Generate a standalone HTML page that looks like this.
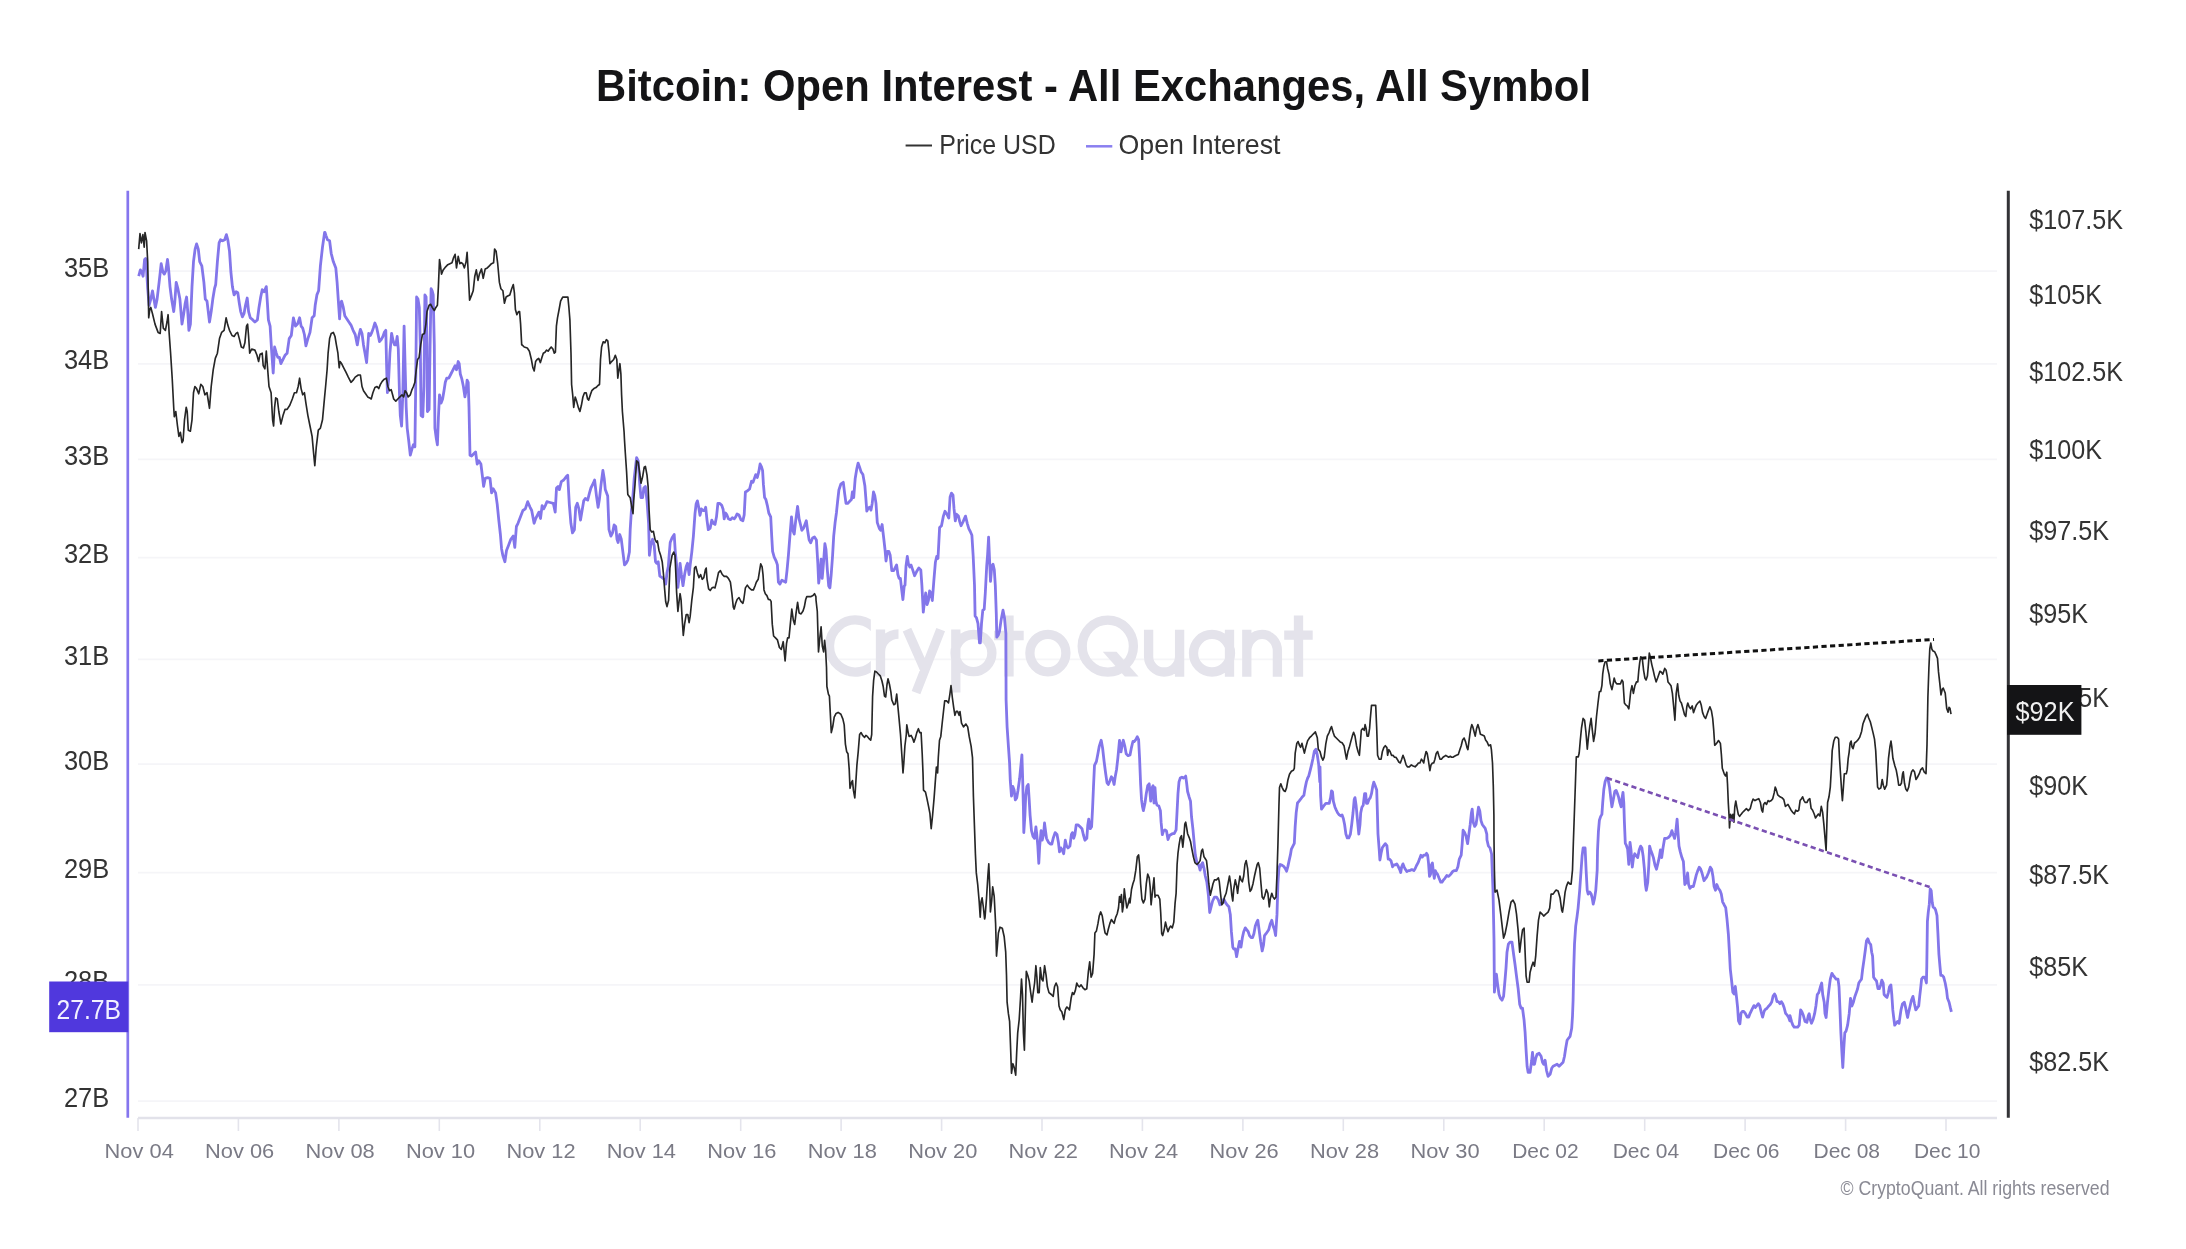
<!DOCTYPE html>
<html><head><meta charset="utf-8"><style>
html,body{margin:0;padding:0;background:#fff;width:2186px;height:1249px;overflow:hidden}
svg{display:block;filter:blur(0.5px)}
text{font-family:"Liberation Sans",sans-serif}
.ax{font-size:27.5px;fill:#333}
.xl{font-size:21px;fill:#7a7a85}
</style></head><body>
<svg width="2186" height="1249" viewBox="0 0 2186 1249">
<rect width="2186" height="1249" fill="#fff"/>
<text x="596" y="100.6" font-size="44.5" font-weight="bold" fill="#141416" textLength="995" lengthAdjust="spacingAndGlyphs">Bitcoin: Open Interest - All Exchanges, All Symbol</text>
<line x1="905.6" y1="145.5" x2="932" y2="145.5" stroke="#333" stroke-width="2"/>
<text x="939.3" y="153.8" font-size="28" fill="#333" textLength="116.5" lengthAdjust="spacingAndGlyphs">Price USD</text>
<line x1="1086" y1="146.3" x2="1112.3" y2="146.3" stroke="#8a7ff0" stroke-width="2.5"/>
<text x="1118.5" y="153.8" font-size="28" fill="#333" textLength="162" lengthAdjust="spacingAndGlyphs">Open Interest</text>
<line x1="138" y1="1101.1" x2="1997" y2="1101.1" stroke="#f5f5f8" stroke-width="1.8"/>
<line x1="138" y1="984.8" x2="1997" y2="984.8" stroke="#f5f5f8" stroke-width="1.8"/>
<line x1="138" y1="872.6" x2="1997" y2="872.6" stroke="#f5f5f8" stroke-width="1.8"/>
<line x1="138" y1="764.2" x2="1997" y2="764.2" stroke="#f5f5f8" stroke-width="1.8"/>
<line x1="138" y1="659.3" x2="1997" y2="659.3" stroke="#f5f5f8" stroke-width="1.8"/>
<line x1="138" y1="557.7" x2="1997" y2="557.7" stroke="#f5f5f8" stroke-width="1.8"/>
<line x1="138" y1="459.3" x2="1997" y2="459.3" stroke="#f5f5f8" stroke-width="1.8"/>
<line x1="138" y1="363.8" x2="1997" y2="363.8" stroke="#f5f5f8" stroke-width="1.8"/>
<line x1="138" y1="271.1" x2="1997" y2="271.1" stroke="#f5f5f8" stroke-width="1.8"/>
<text x="109.2" y="1106.7" text-anchor="end" class="ax" textLength="45.3" lengthAdjust="spacingAndGlyphs">27B</text>
<text x="109.2" y="990.4" text-anchor="end" class="ax" textLength="45.3" lengthAdjust="spacingAndGlyphs">28B</text>
<text x="109.2" y="878.2" text-anchor="end" class="ax" textLength="45.3" lengthAdjust="spacingAndGlyphs">29B</text>
<text x="109.2" y="769.8" text-anchor="end" class="ax" textLength="45.3" lengthAdjust="spacingAndGlyphs">30B</text>
<text x="109.2" y="664.9" text-anchor="end" class="ax" textLength="45.3" lengthAdjust="spacingAndGlyphs">31B</text>
<text x="109.2" y="563.3" text-anchor="end" class="ax" textLength="45.3" lengthAdjust="spacingAndGlyphs">32B</text>
<text x="109.2" y="464.9" text-anchor="end" class="ax" textLength="45.3" lengthAdjust="spacingAndGlyphs">33B</text>
<text x="109.2" y="369.4" text-anchor="end" class="ax" textLength="45.3" lengthAdjust="spacingAndGlyphs">34B</text>
<text x="109.2" y="276.7" text-anchor="end" class="ax" textLength="45.3" lengthAdjust="spacingAndGlyphs">35B</text>
<text x="2029.3" y="229.3" class="ax" textLength="93.7" lengthAdjust="spacingAndGlyphs">$107.5K</text>
<text x="2029.3" y="304.1" class="ax" textLength="72.8" lengthAdjust="spacingAndGlyphs">$105K</text>
<text x="2029.3" y="380.8" class="ax" textLength="93.7" lengthAdjust="spacingAndGlyphs">$102.5K</text>
<text x="2029.3" y="459.4" class="ax" textLength="72.8" lengthAdjust="spacingAndGlyphs">$100K</text>
<text x="2029.3" y="539.9" class="ax" textLength="79.8" lengthAdjust="spacingAndGlyphs">$97.5K</text>
<text x="2029.3" y="622.5" class="ax" textLength="58.8" lengthAdjust="spacingAndGlyphs">$95K</text>
<text x="2029.3" y="707.4" class="ax" textLength="79.8" lengthAdjust="spacingAndGlyphs">$92.5K</text>
<text x="2029.3" y="794.6" class="ax" textLength="58.8" lengthAdjust="spacingAndGlyphs">$90K</text>
<text x="2029.3" y="884.2" class="ax" textLength="79.8" lengthAdjust="spacingAndGlyphs">$87.5K</text>
<text x="2029.3" y="976.4" class="ax" textLength="58.8" lengthAdjust="spacingAndGlyphs">$85K</text>
<text x="2029.3" y="1071.4" class="ax" textLength="79.8" lengthAdjust="spacingAndGlyphs">$82.5K</text>
<line x1="138.0" y1="1118" x2="138.0" y2="1131" stroke="#e4e4ec" stroke-width="1.6"/>
<text x="139.2" y="1158" text-anchor="middle" class="xl" textLength="69.2" lengthAdjust="spacingAndGlyphs">Nov 04</text>
<line x1="238.4" y1="1118" x2="238.4" y2="1131" stroke="#e4e4ec" stroke-width="1.6"/>
<text x="239.6" y="1158" text-anchor="middle" class="xl" textLength="69.2" lengthAdjust="spacingAndGlyphs">Nov 06</text>
<line x1="338.9" y1="1118" x2="338.9" y2="1131" stroke="#e4e4ec" stroke-width="1.6"/>
<text x="340.1" y="1158" text-anchor="middle" class="xl" textLength="69.2" lengthAdjust="spacingAndGlyphs">Nov 08</text>
<line x1="439.3" y1="1118" x2="439.3" y2="1131" stroke="#e4e4ec" stroke-width="1.6"/>
<text x="440.5" y="1158" text-anchor="middle" class="xl" textLength="69.2" lengthAdjust="spacingAndGlyphs">Nov 10</text>
<line x1="539.8" y1="1118" x2="539.8" y2="1131" stroke="#e4e4ec" stroke-width="1.6"/>
<text x="541.0" y="1158" text-anchor="middle" class="xl" textLength="69.2" lengthAdjust="spacingAndGlyphs">Nov 12</text>
<line x1="640.2" y1="1118" x2="640.2" y2="1131" stroke="#e4e4ec" stroke-width="1.6"/>
<text x="641.4" y="1158" text-anchor="middle" class="xl" textLength="69.2" lengthAdjust="spacingAndGlyphs">Nov 14</text>
<line x1="740.7" y1="1118" x2="740.7" y2="1131" stroke="#e4e4ec" stroke-width="1.6"/>
<text x="741.9" y="1158" text-anchor="middle" class="xl" textLength="69.2" lengthAdjust="spacingAndGlyphs">Nov 16</text>
<line x1="841.1" y1="1118" x2="841.1" y2="1131" stroke="#e4e4ec" stroke-width="1.6"/>
<text x="842.3" y="1158" text-anchor="middle" class="xl" textLength="69.2" lengthAdjust="spacingAndGlyphs">Nov 18</text>
<line x1="941.6" y1="1118" x2="941.6" y2="1131" stroke="#e4e4ec" stroke-width="1.6"/>
<text x="942.8" y="1158" text-anchor="middle" class="xl" textLength="69.2" lengthAdjust="spacingAndGlyphs">Nov 20</text>
<line x1="1042.0" y1="1118" x2="1042.0" y2="1131" stroke="#e4e4ec" stroke-width="1.6"/>
<text x="1043.2" y="1158" text-anchor="middle" class="xl" textLength="69.2" lengthAdjust="spacingAndGlyphs">Nov 22</text>
<line x1="1142.4" y1="1118" x2="1142.4" y2="1131" stroke="#e4e4ec" stroke-width="1.6"/>
<text x="1143.6" y="1158" text-anchor="middle" class="xl" textLength="69.2" lengthAdjust="spacingAndGlyphs">Nov 24</text>
<line x1="1242.9" y1="1118" x2="1242.9" y2="1131" stroke="#e4e4ec" stroke-width="1.6"/>
<text x="1244.1" y="1158" text-anchor="middle" class="xl" textLength="69.2" lengthAdjust="spacingAndGlyphs">Nov 26</text>
<line x1="1343.3" y1="1118" x2="1343.3" y2="1131" stroke="#e4e4ec" stroke-width="1.6"/>
<text x="1344.5" y="1158" text-anchor="middle" class="xl" textLength="69.2" lengthAdjust="spacingAndGlyphs">Nov 28</text>
<line x1="1443.8" y1="1118" x2="1443.8" y2="1131" stroke="#e4e4ec" stroke-width="1.6"/>
<text x="1445.0" y="1158" text-anchor="middle" class="xl" textLength="69.2" lengthAdjust="spacingAndGlyphs">Nov 30</text>
<line x1="1544.2" y1="1118" x2="1544.2" y2="1131" stroke="#e4e4ec" stroke-width="1.6"/>
<text x="1545.4" y="1158" text-anchor="middle" class="xl" textLength="66.5" lengthAdjust="spacingAndGlyphs">Dec 02</text>
<line x1="1644.7" y1="1118" x2="1644.7" y2="1131" stroke="#e4e4ec" stroke-width="1.6"/>
<text x="1645.9" y="1158" text-anchor="middle" class="xl" textLength="66.5" lengthAdjust="spacingAndGlyphs">Dec 04</text>
<line x1="1745.1" y1="1118" x2="1745.1" y2="1131" stroke="#e4e4ec" stroke-width="1.6"/>
<text x="1746.3" y="1158" text-anchor="middle" class="xl" textLength="66.5" lengthAdjust="spacingAndGlyphs">Dec 06</text>
<line x1="1845.6" y1="1118" x2="1845.6" y2="1131" stroke="#e4e4ec" stroke-width="1.6"/>
<text x="1846.8" y="1158" text-anchor="middle" class="xl" textLength="66.5" lengthAdjust="spacingAndGlyphs">Dec 08</text>
<line x1="1946.0" y1="1118" x2="1946.0" y2="1131" stroke="#e4e4ec" stroke-width="1.6"/>
<text x="1947.2" y="1158" text-anchor="middle" class="xl" textLength="66.5" lengthAdjust="spacingAndGlyphs">Dec 10</text>
<defs><clipPath id="cclip"><rect x="800" y="600" width="70.8" height="100"/></clipPath></defs><path d="M878.0,633.0 A26.0,26.0 0 1 0 878.0,659.0" fill="none" stroke="#e4e3eb" stroke-width="9.3" clip-path="url(#cclip)"/><g fill="none" stroke="#e4e3eb" stroke-width="9.3"><path d="M880.5,676.6 V629.6 M880.5,652 A18,18 0 0 1 898.5,634 M907,629.6 L924.9,670 M940.7,629.6 L916,692.6 M955.8,629.6 V692.6 M973.5,653.1 m-18.4,0 a18.4,18.6 0 1 0 36.8,0 a18.4,18.6 0 1 0 -36.8,0 M1009,615.4 V676.6 M994.1,635.5 H1023.7 M1047.9,653.1 m-18,0 a18,18.8 0 1 0 36,0 a18,18.8 0 1 0 -36,0 M1107.8,646.1 m-25.6,0 a25.6,26 0 1 0 51.2,0 a25.6,26 0 1 0 -51.2,0 M1148.6,629.7 V656.5 A15.5,15.5 0 0 0 1179.6,656.5 M1179.6,629.7 V676.7 M1212,653.2 m-18.5,0 a18.5,18.8 0 1 0 37,0 a18.5,18.8 0 1 0 -37,0 M1229.5,629.7 V676.7 M1246.8,629.7 V676.7 M1246.8,651 A15.3,16.6 0 0 1 1277.4,651 V676.7 M1298.5,615.5 V676.7 M1284.2,635.1 H1312.7"/></g><polygon points="1102.8,651.7 1116.5,651.7 1138.5,676.4 1124.8,676.4" fill="#e4e3eb"/>
<line x1="138" y1="1118" x2="1997" y2="1118" stroke="#e2e2ea" stroke-width="2.5"/>
<line x1="127.8" y1="190.8" x2="127.8" y2="1117.8" stroke="#8576ee" stroke-width="2.7"/>
<line x1="2008.3" y1="190.7" x2="2008.3" y2="1117.7" stroke="#333336" stroke-width="3"/>
<polyline points="138.7,276.2 140.4,269.9 142.1,273.1 143.1,276.2 144.6,259.5 145.6,258.5 146.6,269.9 147.7,288.7 149.1,305.3 150.8,299.1 152.5,290.8 153.9,299.1 155.4,307.4 157.1,299.1 159.1,282.4 161.2,263.7 162.9,272 164.3,274.1 165.8,271 167.5,259.5 168.5,267.9 170,286.6 171.6,299.1 173.7,311.6 174.7,303.2 176.2,282.4 177.9,288.7 179.9,299.1 182,324.1 183.7,313.7 185.2,303.2 186.6,297 187.9,313.7 188.9,330.3 190.4,324.1 192,286.6 193.5,261.6 195.1,249.1 196.6,243.9 198.3,249.1 199.7,261.6 201.8,265.8 203.9,282.4 205.3,299.1 207,301.2 209.5,322 211.2,311.6 212.8,299.1 214.5,288.7 215.7,284.5 217.4,261.6 219.1,242.9 220.5,239.8 222.6,240.8 224.7,239.8 226.4,234.6 227.8,239.8 229.5,251.2 230.9,272 232.4,286.6 234.1,294.9 236.1,291.8 237.8,292.8 239.3,303.2 240.7,311.6 242.4,316.8 244,313.7 245.5,305.3 247.2,298 248.6,311.6 250.3,317.8 252.8,319.9 254.9,322 257.4,319.9 259,307.4 260.7,297 262.2,289.7 264.2,291.8 266.3,286.6 267.4,303.2 268.4,319.9 270.1,326.1 271.5,349 273.2,373 274.6,347 276.3,353.2 277.8,357.4 279.4,357.4 280.9,363.6 283,359.4 285,355.3 287.1,353.2 289.2,338.6 291.3,335.5 293.4,317.8 295.5,326.1 297.5,324.1 299.6,317.8 301.1,326.1 302.7,328.2 304.4,334.5 305.9,345.9 307.9,338.6 310,332.4 312.1,317.8 314.2,315.7 315.2,305.3 316.9,294.9 318.6,290.8 320.4,265.8 322.5,247.1 324.6,232.5 325,232.5 326,235.6 327.5,239.8 329.6,240.8 331.2,253.3 333.3,261.6 335.8,267.9 337.1,282.4 338.5,303.2 339.6,318.9 340.6,303.2 341.6,301.2 343.3,307.4 344.8,315.7 346.9,318.9 348.9,322 351,325.1 353.1,330.3 355.2,334.5 357.3,344.9 358.7,336.5 360.4,329.3 362,333.4 363.5,344.9 365,353.2 366.6,362.6 367.7,347 368.7,333.4 370.4,335.5 371.8,332.4 373.3,328.2 374.9,323 376.6,327.2 378.1,334.5 379.5,341.7 381.2,339.7 382.9,336.5 384.3,332.4 385.8,330.3 386.6,365.7 387.4,392.7 388.7,378.2 389.9,353.2 391.6,333.4 393.1,340.7 394.5,344.9 395.8,344.9 397.2,336.5 398.3,349 399.5,394.8 400.3,415.6 401.6,426 402.8,394.8 404.1,326.1 405.1,365.7 406.2,407.3 407.2,428.1 408.7,440.6 410.3,455.2 412,448.9 413.4,444.8 414.9,446.8 415.7,386.5 416.6,297 418,299.1 419.3,307.4 420.3,344.9 421.1,415.6 422.8,416.7 423.9,386.5 424.9,294.9 426.1,297 427,344.9 427.4,411.5 429.1,409.4 430.1,344.9 431.1,288.7 432.2,290.8 433.2,294.9 434.3,344.9 434.9,428.1 436.3,438.5 437.4,444.8 438.4,417.7 439.5,394.8 441.1,403.1 442.6,399 444,390.7 445.3,382.3 446.7,378.2 448.8,378.2 450.9,374 453,369.8 455.1,365.7 456.5,369.8 458.2,361.5 459.2,363.6 460.3,374 461.9,379.2 463.4,386.5 464.9,396.9 466.1,390.7 467.1,380.2 468.2,382.3 469,407.3 470,455.2 471.6,456 474,453.6 475.6,452 477.2,464 478.8,460.8 480.9,464 482.5,476.8 483.6,486.4 485.2,478.4 487.6,477.6 490,478.4 491.6,492.9 493.2,488.8 495.6,492.9 497.2,504.1 498.8,520.1 500.4,534.5 501.6,548.9 502.8,555.3 504.9,561.7 506.5,550.5 508.4,545.7 510.8,539.3 513.2,536.1 514.8,547.3 516.4,526.5 518,523.3 520.4,516.9 522.9,510.5 525.3,508.9 527.7,501.7 530.1,507.3 531.7,510.5 534.1,523.3 535.7,518.5 537.3,515.3 538.9,512.1 540.5,518.5 542.1,505.7 543.7,508.9 545.3,505.7 546.9,501.7 550.1,502.5 553.3,503.3 555.2,512.1 556.5,488 558.1,486.4 559.4,489.6 561.3,481.6 563.7,480 566.1,476.8 567.7,475.2 569.3,504.1 570.9,523.3 572.5,532.9 574.4,529.7 575.7,507.3 577.3,503.3 578.9,508.9 580.5,520.1 582.1,510.5 583.7,500.9 585.3,498.5 587.7,500.1 589.3,493.7 590.9,488 593.3,483.2 594.6,480 596.5,496.1 598.1,507.3 599.4,499.3 601,484.8 602.9,470.4 604.2,478.4 605.3,489.6 607.7,496.1 609,529.7 610.9,536.1 612.5,532.9 614.1,524.9 615.7,526.5 617,539.3 618.1,542.5 619.7,534.5 621.3,539.3 622.9,552.1 624.5,564.9 626.1,563.3 627.8,560.1 629.4,552.1 630.2,529.7 631.4,510.5 632.6,500.9 634.2,478.4 636.6,457.6 638.2,460.8 639.8,484.8 641,497.7 642.6,497.7 643.8,488 645.4,486.4 647,500.9 648.6,523.3 649.4,555.3 651,544.1 652.6,539.3 654.2,545.7 655.5,561.7 656.6,563.3 658.2,561.7 659.8,576.1 662.2,577.7 664.1,579.3 665.7,584.1 667,572.9 668.3,566.5 669.4,552.1 670.2,542.5 672.1,537.7 674.2,534.5 675.3,552.1 676.6,564.9 677.9,587.3 679,577.7 680.1,563.3 681.4,574.5 683,585.7 684.6,574.5 686.2,566.5 687.5,563.3 689.1,574.5 690.2,564.9 691.8,552.1 693.4,536.1 695,513.7 696.1,504.1 697.4,500.9 698.7,507.3 700,515.3 701.4,508.9 703,510.5 704.6,510.5 705.7,507.3 707,520.1 708.3,529.7 710.2,528.1 711.8,520.1 713.4,523.3 715,524.5 716.5,516.8 717.9,503.4 719.8,503.4 721.7,505.3 723.1,509.2 724.2,518.8 725.6,513 726.9,514.9 728.4,518.8 730.4,519.7 732.3,517.8 734.2,518.8 735.7,516.8 737.1,514 739,514.9 740.9,519.7 742.9,520.7 744.2,514.9 745.4,491.9 747.3,490.9 749.6,489 751.5,481.3 753,482.3 754.4,478.4 755.7,474.6 757.3,477.5 758.8,471.7 760.1,464 761.5,466.9 762.6,470.7 763.4,484.2 764.6,497.6 765.9,499.6 767.3,505.3 768.8,513 770.7,516.8 771.7,536.1 772.6,551.4 774.2,557.2 776.1,561 777.4,564.9 778.4,582.2 779.9,584.1 781.9,580.2 783.8,581.2 785.7,582.2 787,570.6 788.4,555.3 789.9,536.1 791.5,516.8 792.8,530.3 794.2,534.1 795.7,520.7 797.6,506.3 799.1,518.8 800.5,524.5 801.8,530.3 803.4,528.4 804.9,524.5 806.3,520.7 807.6,530.3 809.1,539.9 810.7,542.8 812.6,538 814.5,537 816.4,539.9 817.8,563 818.7,583.1 820.3,570.6 821.1,559.1 822.2,578.3 823.5,563 824.9,543.7 826,549.5 827.4,570.6 828.7,586 829.9,587.9 831.2,574.5 832.6,555.3 833.7,536.1 835.1,522.6 836.4,513 837.6,501.5 838.9,490 840.8,484.2 843.3,482.3 844.7,493.8 846,503.4 847.6,503.4 849.5,501.5 851.4,499.6 852.4,491.9 853.7,497.6 855.2,478.4 856.8,468.8 858.1,463.1 859.5,466.9 861,471.7 862.9,474.6 864.9,486.1 865.8,497.6 866.8,511.1 868.3,508.2 869.7,507.2 871,510.1 872.2,503.4 873.5,491.9 874.8,495.7 876,503.4 877.3,522.6 879.3,528.4 880.6,530.3 882.1,524.5 883.7,538 885,549.5 886,561 887.5,551.4 888.9,551.4 890.2,555.3 891.8,570.6 893.7,570.6 895.6,566.8 896.6,564.9 897.9,574.5 899.1,578.3 900.4,578.3 901.7,589.9 902.9,599.5 904.2,586 905,585.3 906,566.1 907.3,556.5 908.5,564.1 909.8,567 911.1,565.1 912.7,569.9 914.6,575.7 916.5,571.8 918.8,568 920.8,569.9 921.9,585.3 923.3,612.2 924.6,600.6 925.7,593 927.1,604.5 928.4,600.6 929.6,591 930.9,593 932.3,600.6 933.8,581.4 935.4,562.2 936.7,556.5 938,558.4 939.6,527.6 941.5,525.7 943.4,516.1 945,511.3 946.9,514.2 948.8,518 950.1,496.9 951.5,493.1 953,495 954,508.4 955.3,520.9 956.5,514.2 958.4,516.1 959.8,521.9 961.1,525.7 963,521.9 965.5,516.1 967.4,523.8 968.8,528.6 970.3,531.5 971.9,535.3 973.2,556.5 974.5,585.3 975.1,616 976.5,617.9 978,623.7 979.5,642.9 980.3,642.9 981.5,623.7 982.8,610.2 984.2,609.3 985.3,593 986.7,566.1 987.6,554.5 988.6,537.2 989.5,558.4 990.5,581.4 991.8,566.1 993,564.1 994.3,569.9 995.3,585.3 996.3,614.1 996.8,637.1 998.2,635.2 999.5,631.4 1001.1,619.9 1003,610.2 1004.5,617.9 1005.9,633.3 1006.1,700 1007.1,726.9 1008.4,746.1 1009.6,763.4 1010.3,780.7 1011.5,796.1 1012.8,786.5 1014.2,790.3 1015.3,799.9 1016.7,798 1018,790.3 1019.6,778.8 1021.1,763.4 1021.9,754.8 1022.6,776.8 1023.4,807.6 1023.8,832.6 1024.9,815.3 1025.7,796.1 1026.9,786.5 1028.2,784.5 1029.2,799.9 1030.1,815.3 1031.5,830.6 1033,836.4 1034.5,838.3 1035.9,826.8 1036.8,834.5 1037.8,846 1038.8,863.3 1039.7,846 1041.1,830.6 1042.2,840.2 1043.6,834.5 1044.5,823 1045.5,830.6 1046.5,838.3 1048.4,842.2 1050.3,844.1 1051.8,844.1 1053.2,838.3 1055.1,832.6 1057,834.5 1058.4,842.2 1059.5,851.8 1060.9,847.9 1062.2,849.9 1063.7,853.7 1065.3,840.2 1066.6,846 1068,847.9 1069.9,846 1071.4,834.5 1072.4,832.6 1073.7,838.3 1074.9,834.5 1076.2,824.9 1078.2,824.9 1080.1,826.8 1082,828.7 1083.3,834.5 1084.9,840.2 1086.8,838.3 1087.8,824.9 1088.7,819.1 1090.3,828.7 1091.6,826.8 1092.6,807.6 1093.5,786.5 1094.5,765.3 1096.4,761.5 1097.9,753.8 1099.3,746.1 1101.2,740.3 1102.6,748 1104.1,761.5 1105.6,773 1107,782.6 1108.3,784.5 1109.9,780.7 1111.4,776.8 1112.7,778.8 1114.1,784.5 1115.2,776.8 1116.6,769.2 1117.9,757.6 1119.5,740.3 1121,751.9 1122.3,744.2 1123.3,740.3 1124.8,746.1 1126.2,753.8 1128.1,755.7 1130,755 1131.5,747.3 1132.9,741.5 1134.2,741.5 1135.8,739.6 1137.3,736.7 1138.6,739.6 1139.6,758.8 1140.6,783.8 1141.5,799.2 1142.5,806.8 1143.4,810.7 1145,803 1146.3,793.4 1147.7,785.7 1149.2,783.8 1150.7,801.1 1152.1,787.6 1153.1,785.7 1154,803 1155,787.6 1155.9,801.1 1156.9,804.9 1158.8,805.9 1160.4,810.7 1161.1,822.2 1162.3,834.7 1163.6,830.9 1165,829.9 1166.5,830.9 1168,839.5 1169.4,835.7 1170.7,834.7 1172.3,833.7 1174.2,833.7 1176.1,829.9 1177.1,810.7 1178,793.4 1179,781.9 1180.3,778 1181.9,777.1 1183.4,778 1184.8,777.1 1185.7,776.1 1186.7,783.8 1187.6,791.5 1189.2,797.2 1190.5,801.1 1191.5,816.5 1193,829.9 1194.4,845.3 1195.3,854.9 1196.9,862.6 1198.2,864.5 1199.2,866.4 1200.1,870.2 1201.5,864.5 1202.6,862.6 1204,868.3 1205.3,876 1206.8,881.8 1208.4,895.2 1209.7,912.5 1211.1,906.8 1212.6,901 1214.5,897.1 1216.5,897.1 1218.4,900 1219.9,904.8 1221.8,902.9 1223.8,899.1 1225.7,902.9 1227,904.8 1228.9,906.8 1230.3,914.4 1231.4,931.7 1232.8,947.1 1233.7,949 1235.3,949 1236.6,956.7 1238,949 1239.5,941.3 1241,947.1 1242.4,937.5 1243.7,931.7 1245.3,927.9 1246.8,929.8 1248.2,931.7 1249.5,935.6 1251,937.5 1252.6,937.5 1253.9,933.7 1255.3,926 1256.8,922.1 1257.8,920.2 1259.1,929.8 1260.6,941.3 1262.2,950.9 1263.5,945.2 1264.5,935.6 1266,933.7 1267.4,931.7 1268.7,929.8 1270.2,924 1271.8,920.2 1273.1,926 1274.5,929.8 1275.6,935.6 1277,914.4 1277.9,883.7 1278.9,868.3 1280.2,864.5 1282.2,865.4 1283.7,866.4 1285.2,868.3 1286.6,871.2 1287.9,866.4 1289.1,860.6 1290.4,854.9 1291.4,849.1 1292.9,846.2 1294.3,843.4 1295.2,826.1 1296.2,812.6 1297.5,803 1299.1,801.1 1300.6,799.2 1302,797.2 1303.9,795.3 1305.2,787.6 1306.4,781.9 1307.7,778 1308.7,776.1 1310.2,770.3 1311.6,764.6 1312.9,758.8 1314.4,751.1 1316,749.2 1317.3,755 1318.7,764.6 1319.8,781.9 1320,766.8 1320.6,795.7 1321.5,809.1 1322.9,807.2 1324.2,805.3 1325.8,803.4 1327.7,803.4 1329.2,803.4 1330.6,797.6 1331.5,790.9 1332.5,791.8 1333.4,801.4 1335,807.2 1336.3,810.1 1337.7,813 1339.2,814.9 1340.7,815.8 1342.1,814.9 1343.4,818.7 1344.6,824.5 1345.9,834.1 1347.3,837.9 1348.8,837.9 1350.4,834.1 1351.7,824.5 1353,813 1354.2,799.5 1355,797.6 1356.1,805.3 1357.5,820.6 1358.8,834.1 1360,824.5 1360.7,813 1361.9,807.2 1363.2,805.3 1364.6,793.7 1365.7,793.7 1366.5,803.4 1367.6,803.4 1369,799.5 1370.3,797.6 1371.5,793.7 1372.8,786.1 1373.8,782.2 1375.3,786.1 1376.7,789.9 1377.3,809.1 1378,834.1 1379.2,849.5 1379.9,860 1381.1,853.3 1382.4,847.5 1383.8,845.6 1385.3,843.7 1386.9,845.6 1388.2,859.1 1389.5,859.1 1391.1,861 1392.6,866.8 1394,864.8 1395.3,864.8 1396.8,863.9 1398.4,866.8 1399.7,869.6 1400.7,872.5 1401.7,866.8 1403,863.9 1404.1,866.8 1405.5,869.6 1406.8,871.6 1408.4,870.6 1409.9,870.6 1411.8,869.6 1413.8,870.6 1415.1,868.7 1416.4,865.8 1418,862.9 1419.5,859.1 1420.9,855.2 1422.2,857.1 1423.7,855.2 1425.3,855.2 1426.6,853.3 1427.6,855.2 1428.5,862.9 1429.5,876.4 1430.5,874.4 1431.4,864.8 1432.4,862.9 1433.4,872.5 1434.3,878.3 1435.3,870.6 1436.2,872.5 1437.6,874.4 1439.1,878.3 1440.7,882.1 1442,882.1 1443.3,880.2 1444.9,878.3 1446.8,875.4 1448.7,876.4 1450.6,874.4 1452.6,871.6 1454.5,870.6 1456.4,870.6 1457.9,866.8 1459.3,859.1 1461.2,855.2 1462.2,843.7 1463.1,830.2 1464.5,832.2 1466,836 1467.6,843.7 1468.9,834.1 1470.2,824.5 1471.4,813 1472.2,809.1 1473.3,822.6 1474.7,826.4 1476,824.5 1477.2,816.8 1478.5,807.2 1479.8,811 1481,820.6 1482.3,824.5 1483.7,826.4 1485.2,828.3 1486.8,834.1 1487,840 1488.4,846 1490,848 1491.6,854 1493,890.1 1494,940.1 1494.4,992.2 1495.6,980.2 1496.4,974.2 1497.6,984.2 1499,994.2 1500.4,998.2 1502,1000.2 1503.6,996.2 1505,980.2 1506,968.2 1507,952.2 1508.4,944.1 1510,942.1 1512,942.1 1513.6,954.2 1515,964.2 1516.5,976.2 1518.1,988.2 1519.7,1004.2 1521.1,1008.2 1522.5,1008.2 1524.1,1020.3 1525.1,1032.3 1526.1,1050.3 1527.1,1066.3 1528.1,1072.3 1530.1,1072.3 1531.7,1060.3 1532.5,1052.3 1533.7,1064.3 1534.5,1064.3 1535.7,1058.3 1537.1,1054.3 1539.1,1053.3 1541.1,1056.3 1542.5,1062.3 1543.7,1064.3 1545.1,1060.3 1546.5,1070.3 1548.1,1076.3 1550.1,1074.3 1551.7,1068.3 1553.1,1066.3 1555.1,1065.3 1557.1,1064.3 1559.1,1066.3 1561.1,1064.3 1563.1,1062.3 1564.5,1056.3 1565.7,1048.3 1567.1,1040.3 1568.5,1038.3 1570.1,1036.3 1571.7,1028.3 1572.5,1016.2 1573.1,1000.2 1573.7,970.2 1574.5,944.1 1575.7,926.1 1577.1,916.1 1578.1,908.1 1579.7,890.1 1581.1,870 1582.1,856 1583.1,848 1585.1,848 1586.1,870 1587.2,890.1 1588.2,894.1 1589.8,892.1 1591.2,894.1 1592.2,898.1 1593.2,904.1 1594.6,898.1 1595.8,890.1 1597.2,870 1597.5,850.9 1598.4,831.7 1599.4,820.2 1600.7,816.4 1601.9,814.4 1602.7,802.9 1603.8,789.5 1605.1,781.8 1606.5,777.9 1608,778.9 1609.6,787.5 1610.9,799.1 1611.9,806.8 1613.4,799.1 1614.8,791.4 1616.1,790.4 1617.3,793.3 1618.6,797.1 1619.9,802.9 1621.1,806.8 1621.9,799.1 1623,792.3 1623.8,802.9 1624.4,822.1 1625.3,843.3 1626.3,845.2 1627.6,849 1628.8,864.4 1630,842.3 1631,850 1632.3,867.2 1633.5,857.6 1634.8,853.8 1636.1,855.7 1637.7,857.6 1639.2,850 1640.6,846.1 1641.9,848 1643.1,855.7 1644.4,869.2 1645.4,884.5 1646.3,890.3 1647.7,882.6 1648.8,865.3 1649.6,846.1 1650.7,850 1652.1,853.8 1653.4,857.6 1655,865.3 1656.5,869.2 1657.9,863.4 1659.2,857.6 1660.4,850 1661.7,857.6 1663,848 1664.6,838.4 1666.5,838.4 1668.4,837.5 1670.3,835.5 1671.9,830.7 1673.2,834.6 1674.6,838.4 1675.7,832.7 1677.1,819.2 1678,832.7 1679,846.1 1680.3,851.9 1681.9,857.6 1683.4,861.5 1684.8,884.5 1686.1,882.6 1687.6,873 1688.6,884.5 1689.9,888.4 1691.5,886.5 1693.4,886.5 1694.9,880.7 1696.3,874.9 1697.6,871.1 1699.2,867.2 1700.7,869.2 1702,873 1704,880.7 1705.3,878.8 1706.8,876.8 1708.4,873 1710.3,867.2 1711.7,869.2 1713,876.8 1714.1,886.5 1715.5,890.3 1716.8,884.5 1718.4,888.4 1719.9,890.3 1721.3,894.1 1722.6,901.8 1724.1,904.7 1725.7,907.6 1727,919.1 1728.4,934.5 1729.5,953.7 1730.3,969.1 1731.8,982.5 1732.8,992.1 1734.1,994 1735.3,986.4 1736.6,997.9 1737.6,1007.5 1738.5,1020.9 1739.9,1023.8 1741,1013.3 1742.4,1011.3 1743.7,1011.3 1745.3,1013.3 1747.2,1017.1 1748.7,1017.1 1750.1,1013.3 1752,1009.4 1753.9,1005.6 1755.3,1007.5 1756.8,1005.6 1758.3,1003.7 1759.7,1005.6 1761,1011.3 1762.6,1017.1 1764.1,1011.3 1765.4,1009.4 1766.8,1008.5 1768.3,1006.5 1770.2,1004.6 1771.8,1001.7 1773.1,996 1774.5,994 1775.6,996 1777,1001.7 1778.3,1001.7 1779.9,1003.7 1781.4,1001.7 1782.7,1003.7 1784.1,1007.5 1785.6,1013.3 1787.2,1015.2 1788.5,1017.1 1789.8,1020.9 1790,1015.6 1791.5,1021.4 1792.9,1025.2 1794.2,1027.1 1795.8,1027.1 1797.7,1027.1 1799.2,1025.2 1800.6,1009.9 1801.9,1011.8 1803.4,1015.6 1805,1021.4 1806.9,1022.3 1808.3,1015.6 1809.2,1013.7 1810.2,1019.5 1811.5,1023.3 1813.1,1019.5 1814.6,1013.7 1815.9,1006 1817.3,994.5 1818.8,992.6 1820.4,986.8 1821.7,983 1822.7,994.5 1824.2,1002.2 1825,1013.7 1826.1,1017.5 1827.5,1002.2 1828.8,990.6 1830.3,979.1 1831.9,973.4 1833.2,975.3 1834.6,977.2 1836.1,979.1 1838,979.1 1839,986.8 1840,1009.9 1840.9,1032.9 1841.9,1052.1 1842.8,1067.5 1843.8,1048.3 1844.8,1032.9 1846.1,1031 1847.6,1025.2 1849.2,1013.7 1850.5,998.3 1851.9,1006 1853.4,1002.2 1854.9,996.4 1856.3,992.6 1857.6,988.7 1858.8,983 1860.1,981 1861.5,979.1 1862.6,969.5 1864,959.9 1865.3,950.3 1866.5,940.7 1867.8,938.8 1869.2,942.6 1870.7,944.5 1871.7,952.2 1872.6,956.1 1873.6,977.2 1874.9,979.1 1876.5,981 1878,988.7 1879.3,988.7 1880.7,984.9 1881.8,980.1 1883.2,983 1884.1,994.5 1885.7,996.4 1887,997.4 1888.4,992.6 1889.5,986.8 1890.9,984.9 1891.8,994.5 1892.8,1009.9 1893.7,1017.5 1894.7,1025.2 1896.1,1023.3 1897.6,1021.4 1899.1,1023.3 1899.9,1017.5 1901,1009.9 1902.4,1004.1 1904.3,1002.2 1905.7,1007.9 1906.8,1013.7 1907.6,1017.5 1908.7,1011.8 1910.1,1006 1911.4,1000.2 1913,996.4 1914.5,1004.1 1915.8,1009.9 1917.2,1007.9 1918.7,1006 1919.7,996.4 1920.6,988.7 1921.6,979.1 1922.9,977.2 1924.5,977.2 1925.4,979.1 1926.4,983 1926.8,965.7 1927.4,921.5 1928.3,911.9 1929.3,904.2 1930.2,888.8 1931.2,890.7 1932.2,902.3 1933.1,907.1 1934.5,908 1935.6,910 1937,915.7 1937.9,933 1938.9,954.1 1939.9,965.7 1940.8,975.3 1942.2,975.3 1943.7,977.2 1945.2,983 1946.6,990.6 1947.5,998.3 1949.1,1002.2 1950.4,1007.9 1951.4,1011.8" fill="none" stroke="#8376ea" stroke-width="2.8" stroke-linejoin="round"/>
<polyline points="138.7,249.1 140,233.5 141.4,242.9 142.9,234.6 144.2,247.1 145,232.5 146.6,240.8 147.7,261.6 148.7,317.8 149.8,309.5 150.8,307.4 152.5,313.7 155,324.1 158.1,332.4 160.2,333.4 161.6,311.6 163.3,328.2 165.4,330.3 167,322 168.1,314.7 169.1,332.4 170.6,353.2 172.2,378.2 173.7,407.3 174.3,416.7 175.8,411.5 177.5,426 178.9,436.4 180.4,432.3 182,442.7 183.1,440.6 184.5,419.8 186.2,407.3 187.2,411.5 188.3,430.2 190.4,431.2 192,419.8 193.5,392.7 194.9,386.5 196.6,388.6 198.7,393.8 200.8,384.4 202.8,386.5 204.9,394.8 207,392.7 208,399 209.5,408.3 211.2,386.5 213.2,369.8 215.3,358.4 217.4,353.2 219.5,338.6 221.6,332.4 224.1,330.3 226.1,317.8 227.8,325.1 229.5,330.3 232,335.5 234.1,336.5 236.1,333.4 237.6,332.4 239.3,338.6 241.3,347 243.4,348 244.9,342.8 246.5,326.1 247.6,324.1 248.6,336.5 249.7,353.2 251.7,349 254.9,350.1 257,355.3 258.6,361.5 260.1,354.2 262.2,353.2 263.2,365.7 264.9,368.8 266.3,351.1 267.4,365.7 269,386.5 271.1,392.7 272.6,419.8 273.6,426 274.6,407.3 275.7,397.9 277.3,399 278.8,411.5 280.9,424 283,415.6 285,409.4 287.1,409.4 289.8,405.2 292.3,399 294.4,392.7 296.5,392.7 298.2,386.5 299.6,378.2 301.1,388.6 302.7,394.8 304.4,392.7 305.9,403.1 307.9,415.6 310,426 312.1,436.4 313.6,453.1 314.8,465.6 316.3,446.8 318.3,430.2 320.4,428.1 322.5,419.8 324.6,396.9 325.6,386.5 327.1,369.8 328.1,353.2 329.6,338.6 331.2,333.4 333.3,332.4 335,336.5 336.4,344.9 337.9,353.2 339.2,367.8 340,361.5 341.6,363.6 343.7,367.8 345.8,371.9 348.3,377.1 351,382.3 353.1,380.2 355.2,377.1 358.3,375 360.4,375 362,386.5 363.5,390.7 365.6,393.8 367.7,396.9 369.7,397.9 371.2,399 372.9,392.7 374.9,387.5 377,386.5 378.7,388.6 380.4,384.4 382.2,381.3 384.3,379.2 386.4,378.2 387.9,386.5 389.5,390.7 391.2,389.6 392.6,394.8 393.7,399 395.8,401.1 397.8,399 399.9,396.9 402,394.8 403.7,396.9 405.1,390.7 406.6,392.7 408.2,396.9 410.3,394.8 412,389.6 413.4,386.5 414.9,382.3 416.2,369.8 417.6,359.4 419.1,357.4 420.7,344.9 422.4,334.5 424.5,333.4 425.9,324.1 427,311.6 429.1,305.3 430.7,304.3 432.2,307.4 434.3,310.5 435.9,307.4 437.4,305.3 438.4,286.6 439.5,259.5 440.5,265.8 441.5,274.1 443.2,269.9 445.7,266.8 447.8,264.7 449.9,263.7 452,262.7 453.6,257.5 455.1,254.3 456.5,267.9 458.2,256.4 459.9,263.7 461.3,262.7 462.8,263.7 464.4,267.9 466.1,261.6 467.1,252.3 468.2,272 469.6,300.1 471.7,294.9 473.2,290.8 474.8,276.2 476.3,269.9 478,280.4 479.4,274.1 481.5,268.9 483.2,278.3 485.2,268.9 487.3,267.9 489.4,265.8 491.5,263.7 493.6,262.7 494.6,249.1 496.1,251.2 497.7,263.7 499.4,282.4 500.9,288.7 502.9,290.8 504.4,303.2 506.1,297 507.7,296 509.8,294.9 511.7,288.7 513.3,284.5 514.4,292.8 515.4,309.5 516.9,314.7 518.5,311.6 519.6,311.6 520.6,324.1 521.7,344.9 522.1,344.9 524.2,347 527.3,348 529.4,351.2 531.4,359.5 532.9,367.8 534.2,370.9 535.6,361.6 537.1,359.5 538.7,358.4 540.4,362.6 541.9,357.4 543.3,353.2 545,352.2 546.6,350.1 548.1,351.2 549.6,349.1 551.2,347 552.9,349.1 554.3,353.2 555.4,352.2 556.4,326.2 557.5,317.9 559.1,309.5 560.6,301.2 562.7,297.1 564.7,297.1 567.9,297.1 568.9,307.5 569.9,319.9 571,353.2 571.6,384.5 572.7,394.9 573.7,407.4 575.2,397 576.6,401.1 578.3,407.4 579.9,411.5 581.4,405.3 582.9,397 584.5,392.8 586.2,392.8 587.6,399 588.7,400.1 590.3,394.9 591.8,390.7 593.9,388.6 596,387.6 598,385.5 599.5,384.5 600.5,359.5 601.6,347 603.2,341.8 604.9,342.8 606.4,339.7 607.8,340.8 609.1,353.2 609.9,363.7 611.6,361.6 613.7,359.5 615.3,355.3 616.8,359.5 617.8,378.2 618.9,369.9 619.9,363.7 620.9,374.1 621.6,394.9 622.4,411.5 624.1,432.3 624.5,440 625.3,452.8 626.6,472 627.8,494.5 630.2,497.7 631.8,507.3 633,513.7 633.7,500.9 635,484.8 636.6,460.8 638.2,462.4 639.8,473.6 641,483.2 642.6,476.8 644.2,467.2 645.4,466.4 647,475.2 648.1,486.4 649.1,510.5 650.2,529.7 651.8,532.1 653.4,531.3 655,539.3 656.6,542.5 657.4,540.9 659,550.5 660.6,555.3 662.2,561.7 663.5,574.5 664.6,588.9 665.7,601.8 667,606.6 668.6,600.2 669.9,568.1 671,561.7 672.1,555.3 673.7,552.1 675,555.3 675.8,572.9 676.6,592.1 677.9,611.4 679,601.8 680.1,593.7 681.1,600.2 682.2,619.4 683.3,635.4 684.6,624.2 686.2,614.6 687.8,614.6 689.1,622.6 690.2,616.2 691.8,600.2 693.4,587.3 694.5,568.1 695.8,566.5 697.4,572.9 699,577.7 700.6,574.5 702.2,579.3 703.8,577.7 705.4,569.7 706.2,568.1 707,579.3 708.6,588.9 710.2,590.5 711.8,588.1 713.4,587.3 715,587.9 716.9,580.2 718.5,572.6 720.4,570.6 722.3,574.5 724.2,576.4 726.5,576.4 728.4,578.3 730.4,582.2 731.9,593.7 733.3,607.1 734.2,609.1 735.7,603.3 737.1,599.5 739,597.5 740.9,601.4 742.9,603.3 743.8,599.5 745.4,587.9 747.3,585.1 749.2,587.9 751.5,589.9 753.4,589.9 755,586 756.3,582.2 758.2,579.3 759.6,570.6 760.7,563.9 762.1,566.8 763,574.5 764,589.9 765.3,593.7 766.9,595.6 768.4,599.5 769.8,599.5 771.1,601.4 772.3,624.4 773.6,636 775.5,637.9 777.4,639.8 779.4,647.5 781.3,649.4 783.2,641.7 784.2,651.3 785.1,660.9 786.5,643.7 787.6,637.9 789,637.9 790.3,624.4 791.8,609.1 793.4,620.6 794.7,624.4 796.1,612.9 797.6,602.3 799.1,612.9 801.1,613.9 803,611 804.3,607.1 805.7,599.5 806.8,596.6 809.1,596.6 811.1,596.6 813,595.6 814.5,593.7 815.9,596.6 816,600 817.3,611.5 818.5,651.9 819.8,638.4 821.1,626.9 822.3,646.1 823.6,651.9 824.6,640.3 825.6,650 826.5,667.2 826.9,686.5 828.4,694.1 829.4,696.1 830.4,715.3 831.3,732.6 832.7,726.8 834.2,717.2 836.1,713.4 838.1,712.4 840.9,714.3 842.9,719.1 844.2,724.9 845.4,744.1 846.7,751.8 848,753.7 849.2,769.1 850,788.3 851.5,782.5 852.5,780.6 853.4,790.2 854.8,797.9 855.7,784.4 856.9,765.2 858.2,751.8 859.6,734.5 861.1,732.6 862.6,735.4 864.6,737.4 865.9,735.4 867.3,736.4 868.8,738.3 870.7,740.2 871.7,734.5 872.6,696.1 873.6,680.7 874.9,671.1 876.5,672 878.4,674 880.3,675.9 881.9,680.7 883.2,686.5 884.5,696.1 885.7,697 887,684.5 888,678.8 889.5,684.5 890.9,692.2 891.8,699.9 893.8,704.7 895.3,703.7 896.7,694.1 898,707.6 899.1,719.1 900.5,734.5 901.5,749.9 902.4,763.3 903,772.9 903.8,763.3 904.9,746 906.3,734.5 906.8,724.9 908.2,732.6 909.1,736.4 911.1,735.4 912.6,738.3 913.9,742.2 915.3,738.3 916.8,732.6 918.4,728.7 919.7,732.6 921.1,732.6 922.2,753.7 923,772.9 923.5,790.2 925.5,792.1 926.8,797.9 928.4,805.6 929.9,813.3 931.2,828.6 932.6,815.2 934.1,797.9 935.1,784.4 936.4,767.1 937.6,772.9 938.3,757.5 939.5,740.2 940.8,736.4 942.2,723 943.7,709.5 944.7,700.9 946.6,700.9 948.5,702.8 949.9,694.1 951,685.5 952.4,698 953.7,707.6 954.9,715.3 956.2,711.4 957.6,711.4 959.1,715.3 960,711.5 961.5,723.1 963.5,726.9 965.8,724 967.7,726.9 969.2,736.5 971.1,746.1 972.5,757.6 973.4,796.1 974.4,824.9 975.4,853.7 976.3,872.9 977.7,884.4 979.2,901.7 980.2,917.1 981.1,901.7 982.1,897.9 983.4,907.5 984.6,919 985,917.6 986.5,898.4 987.9,875.4 988.8,863.8 989.8,888.8 990.4,911.9 991.7,900.3 992.7,886.9 994.2,896.5 995.6,923.4 996.5,956.1 997.5,944.5 998.4,933 1000,927.2 1002.3,928.2 1004.2,936.8 1005.7,952.2 1006.5,975.3 1007.1,1002.2 1008.4,1013.7 1009.6,1021.4 1010.4,1042.5 1011.5,1073.3 1012.9,1063.7 1014.2,1067.5 1015.7,1075.2 1016.7,1052.1 1017.7,1032.9 1019.2,1019.5 1020.5,998.3 1021.5,979.1 1022.5,994.5 1023.4,1032.9 1024.4,1050.2 1025.3,1013.7 1026.3,971.4 1027.7,975.3 1029.2,981 1030.7,992.6 1032.1,1002.2 1033,994.5 1034.6,983 1035.9,965.7 1036.9,977.2 1037.8,992.6 1039.2,992.6 1040.3,967.6 1041.7,979.1 1043,981 1044.6,965.7 1046.1,975.3 1047.4,986.8 1049,992.6 1051.3,994.5 1053.2,996.4 1054.5,986.8 1056.1,983 1057.6,986.8 1059,1006 1060.3,1009.9 1061.8,1011.8 1063.8,1019.5 1065.3,1009.9 1066.7,1007 1068,1007.9 1069.5,1009.9 1071.1,998.3 1072.4,992.6 1073.8,994.5 1075.3,990.6 1076.8,983 1078.2,985.8 1079.5,986.8 1081.1,984.9 1083,987.8 1084.9,989.7 1086.8,988.7 1088.4,971.4 1089.7,961.8 1091.1,977.2 1092.6,973.4 1094.1,954.1 1094.9,933 1096.4,931.1 1098,923.4 1099.3,915.7 1100.7,911.9 1102.2,915.7 1103.7,925.3 1105.1,933 1107,934.9 1108.3,929.2 1109.9,923.4 1111.4,919.6 1112.8,921.5 1114.1,923.4 1115.6,917.6 1117.2,913.8 1118.5,908 1119.5,896.5 1120.4,902.3 1121.4,894.6 1122.4,911.9 1123.3,906.1 1124.3,888.8 1125.2,896.5 1126.8,908 1128.1,904.2 1129.5,898.4 1130,902.9 1131.5,889.5 1132.9,883.7 1134.2,879.9 1135.8,870.2 1137.3,856.8 1138.6,854.9 1139.6,864.5 1140.6,883.7 1141.9,899.1 1143.4,902.9 1145,899.1 1146.3,883.7 1147.7,874.1 1149.2,877.9 1150.2,887.5 1151.1,904.8 1152.7,889.5 1154,877.9 1155,897.1 1155.9,895.2 1157.9,895.2 1159.8,899.1 1160.7,912.5 1161.7,933.7 1162.7,935.6 1164.2,929.8 1165.5,922.1 1166.9,927.9 1168,931.7 1169.4,927.9 1170.7,926 1172.3,927.9 1173.8,922.1 1175.1,902.9 1176.1,893.3 1177.1,864.5 1178,853 1179,845.3 1180.3,837.6 1181.5,835.7 1182.8,847.2 1183.8,837.6 1184.8,824.1 1185.7,822.2 1186.7,828 1187.6,833.7 1189.2,837.6 1190.5,841.4 1191.9,849.1 1193.4,856.8 1194.9,862.6 1196.9,864.5 1198.8,862.6 1200.1,860.6 1201.5,851 1202.6,849.1 1204,856.8 1205.3,858.7 1206.5,860.6 1207.8,872.2 1208.8,883.7 1210.3,895.2 1211.7,889.5 1213,883.7 1214.5,879.9 1216.5,879.9 1218.4,877.9 1219.3,881.8 1220.3,891.4 1221.8,904.8 1223.2,902.9 1224.5,897.1 1226.1,893.3 1228,883.7 1229.5,876 1230.9,885.6 1231.8,895.2 1232.8,901 1233.7,889.5 1235.3,879.9 1236.6,885.6 1237.6,893.3 1238.5,885.6 1239.9,876 1241,879.9 1242.4,881.8 1243.7,876 1244.9,864.5 1246.2,860.6 1247.6,868.3 1248.7,881.8 1250.1,891.4 1251.4,889.5 1253,883.7 1254.5,876 1255.8,870.2 1257.2,864.5 1258.3,862.6 1259.7,868.3 1261,883.7 1262.2,897.1 1263.5,899.1 1264.9,895.2 1266.4,889.5 1267.9,893.3 1269.3,906.8 1270.2,899.1 1271.8,893.3 1273.1,897.1 1274.5,899.1 1276,897.1 1277,874.1 1277.9,845.3 1278.9,806.8 1279.5,787.6 1280.8,783.8 1282.2,787.6 1283.7,790.5 1285.2,791.5 1286.6,787.6 1287.9,780 1289.5,774.2 1291.4,771.3 1293.3,770.3 1294.3,768.4 1295.2,753.1 1296.8,743.4 1298.1,741.5 1299.5,745.4 1300.6,747.3 1302,743.4 1302.9,747.3 1304.4,753.1 1305.8,747.3 1307.7,740.6 1309.6,737.7 1311.6,735.8 1313.5,733.8 1315.4,731.9 1317.3,737.7 1318.3,749.2 1320,751.5 1321.5,757.2 1322.9,760.1 1324.2,757.2 1325.8,743.8 1327.3,736.1 1329.2,732.3 1330.6,728.4 1331.5,726.5 1333.1,732.3 1334.4,736.1 1336.3,738 1338.3,740 1340.2,741.9 1342.1,742.8 1344,745.7 1345.4,753.4 1346.5,759.2 1347.9,751.5 1349.2,747.6 1350.7,741.9 1352.3,736.1 1353.6,732.3 1355,736.1 1356.5,745.7 1358,751.5 1359.4,755.3 1360.3,743.8 1361.3,730.3 1362.7,728.4 1364.2,730.3 1365.1,724.6 1366.1,728.4 1367.1,736.1 1368.4,736.1 1369.6,728.4 1370.3,718.8 1371.5,705.4 1373.8,705.4 1375.7,705.4 1376.7,728.4 1377.6,755.3 1379.2,759.2 1381.1,759.2 1382.4,751.5 1383.8,747.6 1385.3,745.7 1386.9,747.6 1387.6,755.3 1388.8,749.6 1390.1,751.5 1391.5,755.3 1393,755.3 1394.5,757.2 1395.9,757.2 1397.2,759.2 1398.8,762 1400.3,763 1401.7,759.2 1403,755.3 1404.5,759.2 1406.1,764.9 1407.4,766.8 1409.3,766.8 1411.3,764.9 1413.2,765.9 1415.1,766.8 1417,764.9 1418.4,763 1419.9,763 1421.4,759.2 1422.8,761.1 1423.7,763 1424.7,757.2 1426.1,751.5 1427.2,753.4 1428.5,761.1 1429.9,770.7 1431,764.9 1432.4,763 1433.7,763 1434.9,759.2 1436.2,753.4 1437.6,751.5 1438.7,755.3 1440.1,759.2 1441.4,759.2 1443,757.2 1444.5,756.3 1445.8,755.3 1447.2,756.3 1448.7,757.2 1450.3,756.3 1451.6,757.2 1452.9,757.2 1454.5,756.3 1456.4,755.3 1458.3,754.4 1459.9,749.6 1461.2,745.7 1462.6,740 1464.1,738 1465.6,741.9 1467,747.6 1467.9,749.6 1468.9,741.9 1469.9,734.2 1470.8,728.4 1471.8,724.6 1472.7,726.5 1473.7,730.3 1475.2,736.1 1476.6,728.4 1477.9,724.6 1479.1,728.4 1480.4,734.2 1482.3,735.1 1484.3,736.1 1485.6,740 1487.1,741.9 1488.7,745.7 1490.6,744.8 1491.4,749.6 1492.5,763 1493.3,786.1 1493.9,814.9 1494,840 1494.4,870 1495,892.1 1497,890.1 1499,900.1 1501,916.1 1502.4,928.1 1503.6,938.1 1505,934.1 1507,924.1 1509,912.1 1511,902.1 1513,900.1 1515,904.1 1516.5,914.1 1518.1,930.1 1519.7,952.2 1521.1,940.1 1522.5,930.1 1524.1,928.1 1525.1,952.2 1526.1,976.2 1527.1,982.2 1529.1,982.2 1530.1,972.2 1531.7,966.2 1533.1,962.2 1534.5,966.2 1535.7,956.2 1537.1,936.1 1538.5,920.1 1540.1,912.1 1542.1,914.1 1543.7,916.1 1545.7,914.1 1548.1,912.1 1549.7,908.1 1551.1,894.1 1553.1,894.1 1554.5,892.1 1556.1,890.1 1558.1,891.1 1560.1,898.1 1561.7,910.1 1562.5,912.1 1563.7,904.1 1565.1,892.1 1566.5,886.1 1568.1,882.1 1570.1,884.1 1571.1,884.1 1572.1,874 1572.5,870 1573.4,841.3 1574.4,812.5 1575.4,783.7 1576.3,756.8 1578.3,756.8 1579.2,753 1580.2,741.4 1581.5,728 1583.1,718.4 1584.6,720.3 1585.9,731.8 1587.3,749.1 1588.4,737.6 1589.8,726.1 1591.1,718.4 1592.3,729.9 1593.6,741.4 1595,733.7 1596.5,716.5 1598,703 1599.4,691.5 1600.7,691.5 1601.9,685.7 1602.7,674.2 1603.8,666.5 1605.1,661.7 1606.5,661.7 1607.6,668.4 1609,674.2 1610.3,683.8 1611.9,689.6 1612.8,685.7 1614.2,678 1615.3,681.9 1616.7,683.8 1618.6,683.8 1620.5,683.8 1621.9,680 1623,681.9 1624.4,703 1625.7,704.9 1627.2,705.9 1628.8,708.8 1629.5,703 1630.7,691.5 1632,685.7 1633.4,693.4 1634.9,685.7 1636.5,681.9 1637.8,681.9 1638.8,670.3 1639.7,662.7 1640.7,656.9 1642.2,657.9 1643.6,670.3 1644.9,678 1646.1,680 1647.4,676.1 1648.4,664.6 1649.3,653.1 1650.3,656.9 1651.8,664.6 1653.2,670.3 1654.5,676.1 1656.1,681.9 1657.6,678 1658.9,674.2 1659.9,671.3 1661.4,672.3 1662.8,674.2 1664.7,668.4 1666.1,670.3 1667.2,676.1 1668,681.9 1669.5,683.8 1671,685.7 1672.4,693.4 1673.7,706.8 1674.9,720.3 1676.2,693.4 1677.6,683.8 1678.7,695.3 1680.1,701.1 1681.4,703 1683,708.8 1684.5,714.5 1685.8,716.5 1686.8,706.8 1687.8,703 1689.1,706.8 1690.6,708.8 1692.2,705.9 1693.5,712.6 1694.9,708.8 1696.4,704.9 1697.9,703 1699.9,701.1 1701.2,704.9 1702.6,712.6 1704.1,716.5 1705.6,718.4 1707,714.5 1708.3,710.7 1709.9,706.8 1711.4,710.7 1712.7,718.4 1713.7,729.9 1714.7,745.3 1716.6,743.4 1718.5,740.5 1720.4,743.4 1721.4,754.9 1722.3,768.3 1724.3,774.1 1725.6,776 1726.8,772.2 1727.5,783.7 1728.3,802.9 1729.1,816.4 1729.5,827.9 1730.6,814.4 1732,818.3 1732.9,814.4 1733.9,822.1 1734.8,806.8 1735.8,801 1736.8,806.8 1738.3,814.4 1739.6,816.4 1741,814.4 1742.5,812.5 1744.4,810.6 1746.4,808.7 1748.3,810.6 1750.2,808.7 1751.7,802.9 1753.1,799.1 1755,800.6 1756.9,799.6 1758.8,798.7 1760.4,802.5 1761.7,810.2 1762.7,812.1 1763.6,804.4 1765,802.5 1766.5,804.4 1768.1,800.6 1769.4,801.6 1771.3,800.6 1772.7,798.7 1774.2,792.9 1775.2,787.1 1776.1,789.1 1777.7,794.8 1780,796.8 1781.9,797.7 1783.8,799.6 1785.4,806.4 1786.7,805.4 1788,804.4 1789.6,807.3 1791.1,810.2 1792.5,812.1 1794.4,814 1795.7,810.2 1797.3,811.2 1798.8,810.2 1800.1,800.6 1801.5,798.7 1802.6,796.8 1804,800.6 1805.3,802.5 1806.9,802.5 1808.4,799.6 1809.8,798.7 1811.1,808.3 1812.6,810.2 1814.2,814 1815.5,817.9 1816.9,816 1818.4,814 1819.9,816 1821.3,806.4 1822.6,812.1 1823.8,823.7 1825.1,839 1826.1,850.5 1827,819.8 1827.6,802.5 1829,796.8 1830.3,787.1 1831.5,766 1832.2,750.6 1833.8,741 1835.3,737.2 1837.2,737.2 1838.6,739.1 1839.5,758.3 1840.5,773.7 1841.5,789.1 1842.4,800.6 1843.4,787.1 1844.3,773.7 1846.3,773.7 1847.2,769.9 1848.2,758.3 1849.1,752.6 1850.1,743 1851.1,741 1852,746.8 1853,748.7 1854.5,743 1855.9,742 1857.8,740.1 1859.7,737.2 1861.6,731.4 1863,723.7 1864.5,719.9 1866,716.1 1867.4,714.1 1868.7,718 1870.3,721.8 1871.8,727.6 1873.2,733.4 1874.5,739.1 1875.7,750.6 1876.4,764.1 1877.6,787.1 1878.9,789.1 1880.8,788.1 1882.2,779.5 1883.3,785.2 1884.7,789.1 1886.6,785.2 1887.6,773.7 1888.5,758.3 1889.9,746.8 1891,741 1891.8,746.8 1892.9,758.3 1894.9,766 1896.2,769.9 1897.6,777.5 1898.7,785.2 1900.1,785.2 1901.4,783.3 1902.6,773.7 1903.3,771.8 1904.5,783.3 1905.8,789.1 1907.2,791 1908.7,787.1 1910.2,777.5 1911.6,771.8 1912.9,769.9 1914.5,771.8 1916,779.5 1917.3,777.5 1919.3,773.7 1920.6,769.9 1922.5,767.9 1924.1,771.8 1926,773.7 1927,744.9 1927.9,696.8 1928.9,668 1929.8,648.8 1930.8,643.1 1931.8,648.8 1932.7,650.7 1934.6,651.7 1936,654.6 1937.5,658.4 1938.5,671.9 1939.8,683.4 1941,694.9 1942.3,689.2 1943.3,688.2 1945.2,693 1946.7,708.4 1948.1,712.2 1949,707.4 1950,708.4 1951,714.1" fill="none" stroke="#262626" stroke-width="1.65" stroke-linejoin="round"/>
<line x1="1598.3" y1="660.9" x2="1934" y2="639.4" stroke="#111" stroke-width="3" stroke-dasharray="5.2,3.4"/>
<line x1="1607" y1="778" x2="1932.5" y2="888" stroke="#7a50b2" stroke-width="2.6" stroke-dasharray="5.2,3.4"/>
<rect x="49.2" y="981.5" width="79" height="50.7" fill="#5038dd"/>
<text x="56.5" y="1018.8" font-size="27.5" fill="#f2f0ff" textLength="64.5" lengthAdjust="spacingAndGlyphs">27.7B</text>
<rect x="2007" y="685" width="74.4" height="49.8" fill="#141416"/>
<text x="2015.5" y="721.3" font-size="28.5" fill="#f0f0f0" textLength="59" lengthAdjust="spacingAndGlyphs">$92K</text>
<text x="1840.5" y="1195.4" font-size="20.5" fill="#8a8a94" textLength="269" lengthAdjust="spacingAndGlyphs">© CryptoQuant. All rights reserved</text>
</svg>
</body></html>
